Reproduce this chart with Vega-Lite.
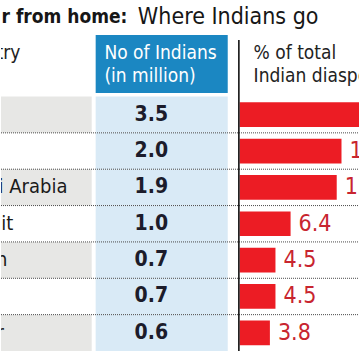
{
  "$schema": "https://vega.github.io/schema/vega-lite/v6.json",
  "width": 360,
  "height": 351,
  "autosize": {"type": "fit", "contains": "padding"},
  "padding": 0,
  "background": "white",
  "config": {
    "view": {"stroke": null},
    "axis": {"disable": true},
    "font": "DejaVu Sans Condensed, DejaVu Sans, sans-serif"
  },
  "datasets": {
    "rows": [
      {"Country": "UAE", "Indians": 3.5, "Share": 22.4},
      {"Country": "US", "Indians": 2.0, "Share": 12.8},
      {"Country": "Saudi Arabia", "Indians": 1.9, "Share": 12.2},
      {"Country": "Kuwait", "Indians": 1.0, "Share": 6.4},
      {"Country": "Oman", "Indians": 0.7, "Share": 4.5},
      {"Country": "UK", "Indians": 0.7, "Share": 4.5},
      {"Country": "Qatar", "Indians": 0.6, "Share": 3.8}
    ],
    "header": [
      {"line": "1", "c1": "Country", "c2": "No of Indians", "c3": "% of total"},
      {"line": "2", "c1": "", "c2": "(in million)", "c3": "Indian diaspora"}
    ]
  },
  "resolve": {"scale": {"y": "independent"}},
  "layer": [
    {
      "data": {"values": [{"part": "title"}]},
      "encoding": {
        "y": {"field": "part", "type": "nominal", "axis": null,
              "scale": {"type": "band", "range": [0, 34], "paddingInner": 0, "paddingOuter": 0}}
      },
      "layer": [
        {
          "mark": {"type": "text", "text": "Far from home:", "fontWeight": "bold", "fontSize": 19, "align": "left", "baseline": "middle", "color": "#161616", "clip": true},
          "encoding": {"x": {"datum": -32.71, "type": "quantitative", "axis": null, "scale": {"domain": [-30, 15], "nice": false, "zero": false}}}
        },
        {
          "mark": {"type": "text", "text": "Where Indians go", "fontSize": 23, "align": "left", "baseline": "middle", "color": "#161616", "clip": true},
          "encoding": {"x": {"datum": -12.8, "type": "quantitative"}}
        }
      ]
    },
    {
      "data": {"values": [{"part": "header"}]},
      "encoding": {
        "y": {"field": "part", "type": "nominal", "axis": null,
              "scale": {"type": "band", "range": [35, 93], "paddingInner": 0, "paddingOuter": 0}}
      },
      "layer": [
        {
          "mark": {"type": "rect", "color": "#1b87c2"},
          "encoding": {"x": {"datum": -18.1, "type": "quantitative"}, "x2": {"datum": -1.5}}
        }
      ]
    },
    {
      "data": {"name": "header"},
      "encoding": {
        "y": {"field": "line", "type": "nominal", "axis": null,
              "scale": {"type": "band", "domain": ["1", "2"], "range": [41, 88], "paddingInner": 0, "paddingOuter": 0}}
      },
      "layer": [
        {
          "mark": {"type": "text", "fontSize": 19, "align": "left", "baseline": "middle", "color": "#222222", "clip": true},
          "encoding": {"x": {"datum": -36.1, "type": "quantitative"}, "text": {"field": "c1"}}
        },
        {
          "mark": {"type": "text", "fontSize": 19, "align": "left", "baseline": "middle", "color": "#ffffff"},
          "encoding": {"x": {"datum": -17, "type": "quantitative"}, "text": {"field": "c2"}}
        },
        {
          "mark": {"type": "text", "fontSize": 19, "align": "left", "baseline": "middle", "color": "#222222", "clip": true},
          "encoding": {"x": {"datum": 1.75, "type": "quantitative"}, "text": {"field": "c3"}}
        }
      ]
    },
    {
      "data": {"name": "rows"},
      "encoding": {
        "y": {"field": "Country", "type": "nominal", "sort": null, "axis": null,
              "scale": {"type": "band", "domain": ["UAE", "US", "Saudi Arabia", "Kuwait", "Oman", "UK", "Qatar"], "range": [96.5, 351], "paddingInner": 0, "paddingOuter": 0}}
      },
      "layer": [
        {
          "transform": [{"filter": {"field": "Country", "oneOf": ["UAE", "Saudi Arabia", "Oman", "Qatar"]}}],
          "mark": {"type": "rect", "color": "#e7e7e5"},
          "encoding": {"x": {"datum": -30, "type": "quantitative"}, "x2": {"datum": -18.6}}
        },
        {
          "mark": {"type": "rect", "color": "#d9eaf6"},
          "encoding": {"x": {"datum": -18.1, "type": "quantitative"}, "x2": {"datum": -1.5}}
        },
        {
          "transform": [{"filter": {"not": {"field": "Country", "equal": "Qatar"}}}],
          "mark": {"type": "rule", "color": "#4a4a4a", "strokeDash": [1, 1], "strokeWidth": 1},
          "encoding": {
            "y": {"field": "Country", "type": "nominal", "bandPosition": 1},
            "x": {"datum": -30, "type": "quantitative"},
            "x2": {"datum": 15}
          }
        },
        {
          "mark": {"type": "text", "fontSize": 20, "align": "left", "baseline": "middle", "color": "#1a1a1a", "clip": true},
          "encoding": {"x": {"datum": -36.0, "type": "quantitative"}, "text": {"field": "Country"}}
        },
        {
          "mark": {"type": "text", "fontSize": 21, "fontWeight": "bold", "align": "right", "baseline": "middle", "color": "#1c1c2b"},
          "encoding": {"x": {"datum": -9, "type": "quantitative"}, "text": {"field": "Indians", "type": "quantitative", "format": ".1f"}}
        },
        {
          "mark": {"type": "bar", "color": "#ec1c24", "height": {"band": 0.68}, "clip": true},
          "encoding": {"x": {"field": "Share", "type": "quantitative"}, "x2": {"datum": 0}}
        },
        {
          "mark": {"type": "text", "fontSize": 23, "align": "left", "baseline": "middle", "dx": 8, "color": "#c8252f", "clip": true},
          "encoding": {"x": {"field": "Share", "type": "quantitative"}, "text": {"field": "Share", "type": "quantitative", "format": ".1f"}}
        }
      ]
    },
    {
      "data": {"values": [{"part": "divider"}]},
      "encoding": {
        "y": {"field": "part", "type": "nominal", "axis": null,
              "scale": {"type": "band", "range": [40, 351], "paddingInner": 0, "paddingOuter": 0}}
      },
      "layer": [
        {
          "mark": {"type": "rect", "color": "#111111"},
          "encoding": {"x": {"datum": -0.2, "type": "quantitative"}, "x2": {"datum": 0}}
        }
      ]
    }
  ]
}
